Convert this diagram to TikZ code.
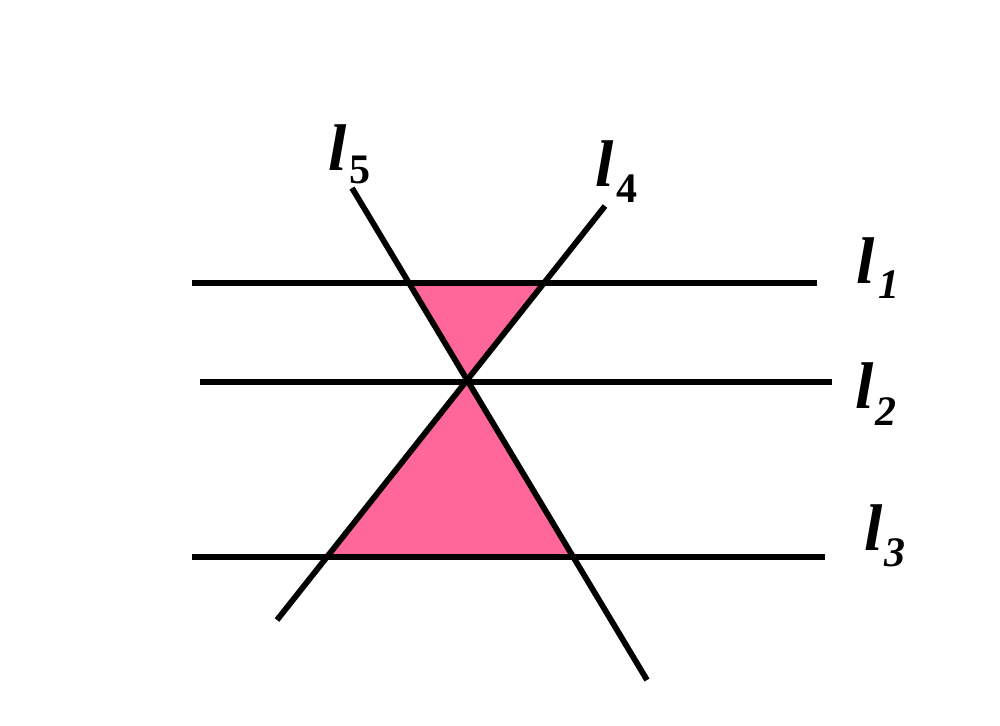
\documentclass[tikz,border=0pt]{standalone}
\usepackage{fontspec}
\setmainfont{Liberation Serif}
\definecolor{tri}{HTML}{FF6699}
\begin{document}
\begin{tikzpicture}[x=1pt,y=-1pt,
  ln/.style={line width=5.8pt, black},
  lbl/.style={anchor=base west, inner sep=0pt, font=\fontsize{66}{66}\selectfont\bfseries\itshape}]
\useasboundingbox (0,0) rectangle (1000,725);
\coordinate (a1) at (192,283); \coordinate (b1) at (817,283);
\coordinate (a2) at (200,382); \coordinate (b2) at (832,382);
\coordinate (a3) at (192,557); \coordinate (b3) at (825,557);
\coordinate (p5) at (352,188); \coordinate (q5) at (647,680);
\coordinate (p4) at (605,206); \coordinate (q4) at (277,620);
\coordinate (X) at (466.5,381);
\coordinate (t1) at (409,283); \coordinate (t2) at (544,283);
\coordinate (u1) at (327,557); \coordinate (u2) at (573,557);
\fill[tri] (t1) -- (t2) -- (X) -- cycle;
\fill[tri] (u1) -- (u2) -- (X) -- cycle;
\draw[ln] (a1) -- (b1);
\draw[ln] (a2) -- (b2);
\draw[ln] (a3) -- (b3);
\draw[ln] (p5) -- (q5);
\draw[ln] (p4) -- (q4);
\node[lbl] (L1) at (856,283) {l\hspace{4pt}\raisebox{-15pt}{\fontsize{42}{42}\selectfont 1}};
\node[lbl] (L2) at (855,408) {l\hspace{2pt}\raisebox{-17pt}{\fontsize{42}{42}\selectfont 2}};
\node[lbl] (L3) at (864,550) {l\hspace{2pt}\raisebox{-16pt}{\fontsize{42}{42}\selectfont 3}};
\node[lbl] (L5) at (328,170) {l\hspace{3pt}\raisebox{-13pt}{\fontsize{42}{42}\selectfont\upshape 5}};
\node[lbl] (L4) at (595,186) {l\hspace{3pt}\raisebox{-16pt}{\fontsize{42}{42}\selectfont\upshape 4}};
\end{tikzpicture}
\end{document}
